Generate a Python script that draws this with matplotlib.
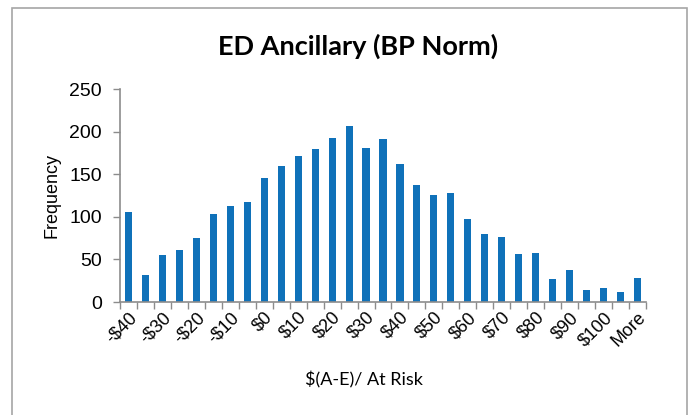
import matplotlib.pyplot as plt
from matplotlib.patches import Rectangle

# bin labels (every other one shown in the chart) and counts
bins = ["-$40", "-$35", "-$30", "-$25", "-$20", "-$15", "-$10", "-$5",
        "$0", "$5", "$10", "$15", "$20", "$25", "$30", "$35", "$40",
        "$45", "$50", "$55", "$60", "$65", "$70", "$75", "$80", "$85",
        "$90", "$95", "$100", "$105", "More"]
freq = [106, 32, 55, 61, 75, 103, 113, 117, 146, 160, 171, 179, 193, 207,
        181, 191, 162, 137, 126, 128, 98, 80, 76, 56, 58, 27, 37, 14, 17, 12, 28]

bar_color = "#0f71b9"
axis_gray = "#8c8c8c"

fig = plt.figure(figsize=(6.89, 4.15), dpi=100)
ax = fig.add_axes([120/689, 1 - 302/415, 526/689, 213/415])

x = list(range(len(bins)))
ax.bar(x, freq, width=0.42, color=bar_color)

ax.set_xlim(-0.5, len(bins) - 0.5)
ax.set_ylim(0, 250)
ax.set_yticks([0, 50, 100, 150, 200, 250])

# category ticks at boundaries, labels every other bin
ax.set_xticks([i - 0.5 for i in range(len(bins) + 1)])
ax.set_xticklabels([])
ax.set_xticks(x[::2], minor=True)
ax.set_xticklabels(bins[::2], minor=True, rotation=45, ha="right",
                   rotation_mode="anchor", fontsize=13, family="Liberation Sans")
ax.tick_params(axis="x", which="minor", length=0, pad=5)
ax.tick_params(axis="x", which="major", length=5, color=axis_gray, width=1)
ax.tick_params(axis="y", length=5, color=axis_gray, width=1, labelsize=14, pad=8)
for lbl in ax.get_yticklabels():
    lbl.set_family("Liberation Sans")

for s in ["top", "right"]:
    ax.spines[s].set_visible(False)
for s in ["left", "bottom"]:
    ax.spines[s].set_color(axis_gray)
    ax.spines[s].set_linewidth(1.2)

ax.set_ylabel("Frequency", fontsize=13, family="Liberation Sans", labelpad=6)
fig.text(364/689, 1 - 380/415, "$(A-E)/ At Risk",
         ha="center", va="center", fontsize=13, family="Lato")
fig.text(358/689, 1 - 46/415, "ED Ancillary (BP Norm)", ha="center", va="center",
         fontsize=19.5, fontweight="bold", family="Lato")

# outer chart border
fig.patches.append(Rectangle((12/689, -0.05), 675/689, 1.05 - 8/415,
                             transform=fig.transFigure, fill=False,
                             edgecolor="#a6a6a6", linewidth=1.2))

fig.savefig("out.png", dpi=100)
